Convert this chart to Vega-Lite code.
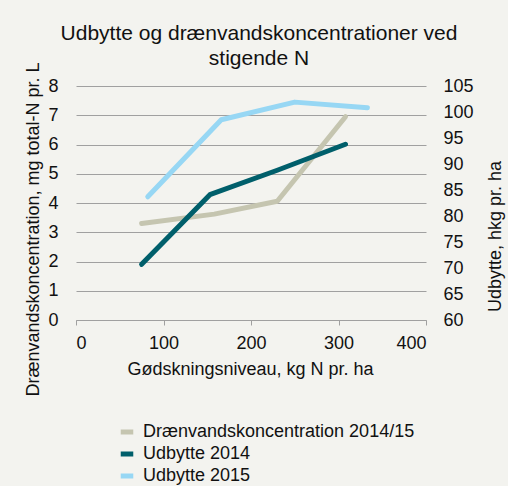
{
  "$schema": "https://vega.github.io/schema/vega-lite/v6.json",
  "autosize": {"type": "none"},
  "width": 350,
  "height": 234,
  "padding": {"left": 76, "top": 86, "right": 82, "bottom": 166},
  "background": "#f3f3ef",
  "title": {
    "text": ["Udbytte og drænvandskoncentrationer ved", "stigende N"],
    "font": "Liberation Sans",
    "fontSize": 21,
    "fontWeight": "normal",
    "color": "#111111",
    "anchor": "middle",
    "frame": "group",
    "dx": 8,
    "offset": -7,
    "lineHeight": 25
  },
  "config": {
    "view": {"stroke": null},
    "font": "Liberation Sans",
    "axis": {
      "labelFont": "Liberation Sans",
      "titleFont": "Liberation Sans",
      "labelFontSize": 18,
      "titleFontSize": 18,
      "titleFontWeight": "normal",
      "labelColor": "#111111",
      "titleColor": "#111111"
    },
    "legend": {
      "labelFont": "Liberation Sans",
      "labelFontSize": 18,
      "labelColor": "#111111"
    }
  },
  "data": {
    "values": [
      {"serie": "Drænvandskoncentration 2014/15", "N": 75, "v": 3.3},
      {"serie": "Drænvandskoncentration 2014/15", "N": 158, "v": 3.62},
      {"serie": "Drænvandskoncentration 2014/15", "N": 230, "v": 4.06},
      {"serie": "Drænvandskoncentration 2014/15", "N": 308, "v": 6.95},
      {"serie": "Udbytte 2014", "N": 75, "v": 70.7},
      {"serie": "Udbytte 2014", "N": 153, "v": 84.1},
      {"serie": "Udbytte 2014", "N": 230, "v": 88.8},
      {"serie": "Udbytte 2014", "N": 308, "v": 93.8},
      {"serie": "Udbytte 2015", "N": 82, "v": 83.7},
      {"serie": "Udbytte 2015", "N": 166, "v": 98.5},
      {"serie": "Udbytte 2015", "N": 250, "v": 101.9},
      {"serie": "Udbytte 2015", "N": 333, "v": 100.8}
    ]
  },
  "encoding": {
    "x": {
      "field": "N",
      "type": "quantitative",
      "scale": {"domain": [0, 400], "nice": false},
      "axis": {
        "title": "Gødskningsniveau, kg N pr. ha",
        "values": [0, 100, 200, 300, 400],
        "grid": false,
        "domainColor": "#a0a0a0",
        "tickColor": "#a0a0a0",
        "tickSize": 5,
        "labelPadding": 9,
        "titleX": 174,
        "titleY": 49,
        "titleAlign": "center",
        "titleBaseline": "middle"
      }
    },
    "color": {
      "field": "serie",
      "type": "nominal",
      "scale": {
        "domain": ["Drænvandskoncentration 2014/15", "Udbytte 2014", "Udbytte 2015"],
        "range": ["#c5c5b0", "#005f6b", "#97d7f4"]
      },
      "legend": {
        "title": null,
        "orient": "none",
        "legendX": 39,
        "legendY": 334,
        "direction": "vertical",
        "symbolType": "M-0.66,0H0.66",
        "symbolStrokeWidth": 5,
        "symbolSize": 361,
        "rowPadding": -3,
        "labelOffset": 4,
        "labelLimit": 0
      }
    }
  },
  "layer": [
    {
      "transform": [{"filter": "datum.serie === 'Drænvandskoncentration 2014/15'"}],
      "mark": {"type": "line", "strokeWidth": 5, "strokeCap": "round", "strokeJoin": "round"},
      "encoding": {
        "y": {
          "field": "v",
          "type": "quantitative",
          "scale": {"domain": [0, 8], "nice": false},
          "axis": {
            "title": "Drænvandskoncentration, mg total-N pr. L",
            "orient": "left",
            "values": [0, 1, 2, 3, 4, 5, 6, 7, 8],
            "grid": true,
            "gridColor": "#a0a0a0",
            "gridWidth": 1,
            "gridOpacity": 1,
            "domain": false,
            "ticks": false,
            "labelPadding": 18,
            "titleX": -43,
            "titleY": 143,
            "titleAngle": 270,
            "titleAlign": "center",
            "titleBaseline": "middle"
          }
        }
      }
    },
    {
      "transform": [{"filter": "datum.serie !== 'Drænvandskoncentration 2014/15'"}],
      "mark": {"type": "line", "strokeWidth": 5, "strokeCap": "round", "strokeJoin": "round"},
      "encoding": {
        "y": {
          "field": "v",
          "type": "quantitative",
          "scale": {"domain": [60, 105], "nice": false},
          "axis": {
            "title": "Udbytte, hkg pr. ha",
            "orient": "right",
            "values": [60, 65, 70, 75, 80, 85, 90, 95, 100, 105],
            "grid": false,
            "domain": false,
            "ticks": false,
            "labelPadding": 17,
            "titleX": 69,
            "titleY": 150,
            "titleAngle": 270,
            "titleAlign": "center",
            "titleBaseline": "middle"
          }
        }
      }
    }
  ],
  "resolve": {"scale": {"y": "independent"}}
}
